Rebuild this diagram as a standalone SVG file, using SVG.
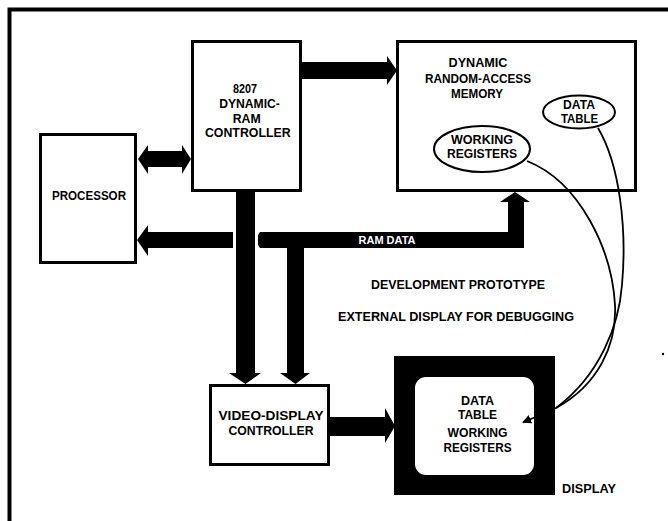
<svg xmlns="http://www.w3.org/2000/svg" width="668" height="521" viewBox="0 0 668 521">
  <style>
    .box { fill: #fff; stroke: #000; stroke-width: 3; }
    .oval { fill: #fff; stroke: #000; stroke-width: 2; }
    .bus { fill: #000; stroke: none; }
    .wire { fill: none; stroke: #000; stroke-width: 1.8; }
    text { font-family: "Liberation Sans", Arial, sans-serif; font-weight: bold; font-size: 13.5px; fill: #000; text-anchor: middle; }
    .inv { fill: #fff; font-size: 11.5px; }
    .sm { font-size: 12.5px; }
  </style>
  <defs>
    <marker id="tip" viewBox="0 0 10 10" refX="9" refY="5" markerWidth="5" markerHeight="5" orient="auto" markerUnits="strokeWidth">
      <path d="M0,0 L10,5 L0,10 Z" fill="#000"/>
    </marker>
  </defs>

  <rect width="668" height="521" fill="#fff"/>
  <!-- page frame (top and left rules) -->
  <path d="M9.5,521 V9.5 H668" fill="none" stroke="#000" stroke-width="4"/>

  <g id="processor">
    <rect class="box" x="40.5" y="134.5" width="95" height="128"/>
    <text x="89" y="200" textLength="74" lengthAdjust="spacingAndGlyphs">PROCESSOR</text>
  </g>

  <g id="ram-controller">
    <rect class="box" x="192.5" y="41.5" width="108" height="149"/>
    <text x="245" y="92.7" textLength="24" lengthAdjust="spacingAndGlyphs">8207</text>
    <text x="249.5" y="107.7" textLength="60.7" lengthAdjust="spacingAndGlyphs">DYNAMIC-</text>
    <text x="246.7" y="122.7" textLength="28" lengthAdjust="spacingAndGlyphs">RAM</text>
    <text x="247.8" y="137.3" textLength="85.7" lengthAdjust="spacingAndGlyphs">CONTROLLER</text>
  </g>

  <g id="dram">
    <rect class="box" x="397.5" y="41.5" width="238" height="149"/>
    <text x="478" y="67" textLength="59" lengthAdjust="spacingAndGlyphs">DYNAMIC</text>
    <text x="478" y="83" textLength="106" lengthAdjust="spacingAndGlyphs">RANDOM-ACCESS</text>
    <text x="477" y="98" textLength="52" lengthAdjust="spacingAndGlyphs">MEMORY</text>
  </g>

  <g id="working-registers">
    <ellipse class="oval" cx="482" cy="149" rx="48" ry="23"/>
    <text class="sm" x="482" y="144" textLength="62" lengthAdjust="spacingAndGlyphs">WORKING</text>
    <text class="sm" x="482" y="158" textLength="70" lengthAdjust="spacingAndGlyphs">REGISTERS</text>
  </g>

  <g id="data-table">
    <ellipse class="oval" cx="579" cy="112" rx="36" ry="16.5"/>
    <text class="sm" x="579" y="109" textLength="32" lengthAdjust="spacingAndGlyphs">DATA</text>
    <text class="sm" x="579.5" y="123" textLength="37" lengthAdjust="spacingAndGlyphs">TABLE</text>
  </g>

  <g id="captions">
    <text x="458" y="289" textLength="174" lengthAdjust="spacingAndGlyphs">DEVELOPMENT PROTOTYPE</text>
    <text x="456" y="321" textLength="236" lengthAdjust="spacingAndGlyphs">EXTERNAL DISPLAY FOR DEBUGGING</text>
  </g>

  <g id="video-controller">
    <rect class="box" x="210.5" y="385.5" width="118" height="79"/>
    <text x="271" y="420" textLength="105" lengthAdjust="spacingAndGlyphs">VIDEO-DISPLAY</text>
    <text x="271" y="435" textLength="85" lengthAdjust="spacingAndGlyphs">CONTROLLER</text>
  </g>

  <g id="display">
    <rect x="394" y="356" width="161" height="139" fill="#000"/>
    <rect x="415" y="377" width="119" height="98" rx="11" fill="#fff"/>
    <text class="sm" x="477.5" y="405" textLength="33" lengthAdjust="spacingAndGlyphs">DATA</text>
    <text class="sm" x="477.5" y="419" textLength="39" lengthAdjust="spacingAndGlyphs">TABLE</text>
    <text class="sm" x="477.5" y="437" textLength="60" lengthAdjust="spacingAndGlyphs">WORKING</text>
    <text class="sm" x="477.5" y="452" textLength="68" lengthAdjust="spacingAndGlyphs">REGISTERS</text>
    <text x="589" y="493" textLength="54" lengthAdjust="spacingAndGlyphs">DISPLAY</text>
  </g>

  <!-- connectors -->
  <g id="connectors">
    <!-- controller to memory -->
    <polygon class="bus" points="302,62 387,62 387,56 397,70.5 387,85 387,79 302,79"/>
    <!-- processor <-> controller -->
    <polygon class="bus" points="138,159 148,145 148,151 182,151 182,145 191,159 182,174 182,167 148,167 148,174"/>
    <!-- data back to processor -->
    <polygon class="bus" points="233,232 148,232 148,225 137,240 148,256 148,248 233,248"/>
    <!-- controller down to video controller -->
    <polygon class="bus" points="236,192 255,192 255,373 261,373 245.5,384 229,373 236,373"/>
    <!-- RAM data bus with branches -->
    <polygon class="bus" points="260,232 508,232 508,202 500,202 515,192 530,202 524,202 524,248 304,248 304,373 310,373 295.5,384 280,373 287,373 287,248 260,248 258,245 258,235"/>
    <text class="inv" x="387" y="244" textLength="57" lengthAdjust="spacingAndGlyphs">RAM DATA</text>
    <!-- video controller to display -->
    <polygon class="bus" points="330,417 385,417 385,408 395,426 385,443 385,436 330,436"/>
    <!-- mapping of memory areas onto the screen -->
    <path class="wire" d="M527,161 C580,182 612,250 615,305 C617,345 598,385 556,408 L523,422.5" marker-end="url(#tip)"/>
    <path class="wire" d="M598,128 C620,165 627,230 622,285 C619,325 600,375 556,408"/>
  </g>

  <circle cx="663" cy="354" r="1.2" fill="#000"/>
</svg>
